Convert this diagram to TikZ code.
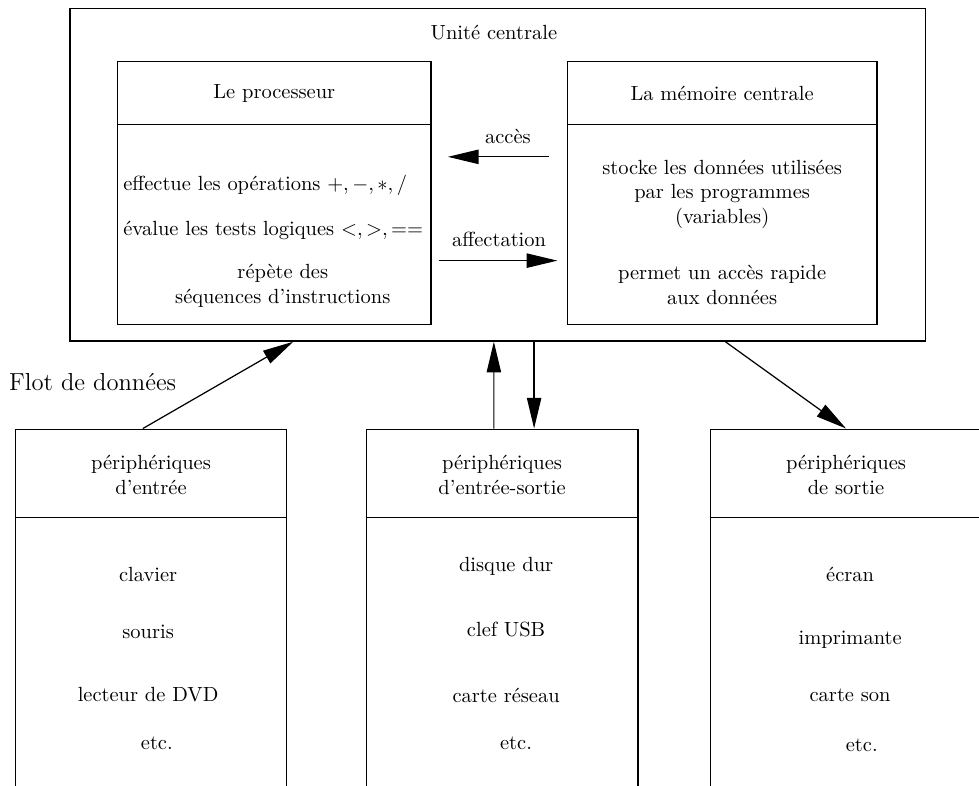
\documentclass[tikz,border=0pt]{standalone}
\usepackage{fontspec}
\usetikzlibrary{arrows.meta}
\begin{document}
\begin{tikzpicture}[
    cadre/.style={draw, line width=0.6pt, inner sep=0pt},
    fleche/.style={line width=0.6pt, -{Triangle[length=15pt,width=7pt]}}]
            \useasboundingbox (0,0) rectangle (16.79,13.48);
            \clip (0,0) rectangle (16.79,13.48);
            \node[cadre, minimum width=14.67cm, minimum height=5.71cm] (uc) at (8.535,10.485) {};
            \node (uctitre) at (8.47,12.92) {Unité centrale};
            \node[cadre, minimum width=5.37cm, minimum height=4.51cm] (proc) at (4.705,10.165) {};
            \node[cadre, minimum width=5.31cm, minimum height=4.51cm] (mem) at (12.385,10.165) {};
            \draw[line width=0.6pt] (2.02,11.34) -- (7.39,11.34);
            \draw[line width=0.6pt] (9.73,11.34) -- (15.04,11.34);
            \node (proctitre) at (4.705,11.88) {Le processeur};
            \node (memtitre) at (12.385,11.88) {La mémoire centrale};
            \node[anchor=west] (p1) at (1.99,10.3) {effectue les opérations $+,-,*,/$};
            \node[anchor=west] (p2) at (1.99,9.53) {évalue les tests logiques $<,>,==$};
            \node[align=center] (p3) at (4.85,8.58) {répète des\\séquences d'instructions};
            \node[align=center] (m1) at (12.385,10.15) {stocke les données utilisées\\par les programmes\\(variables)};
            \node[align=center] (m2) at (12.385,8.59) {permet un accès rapide\\aux données};
            \draw[fleche, shorten <=0.3cm, shorten >=0.28cm] ([yshift=0.625cm]mem.west) -- ([yshift=0.625cm]proc.east)
                node[midway, above=3pt, xshift=0.15cm] (acces) {accès};
            \draw[fleche, shorten <=0.12cm, shorten >=0.16cm] ([yshift=-1.155cm]proc.east) -- ([yshift=-1.155cm]mem.west)
                node[midway, above=3pt] (affect) {affectation};
            \node[cadre, minimum width=4.66cm, minimum height=6.62cm] (entree) at (2.59,2.81) {};
            \node[cadre, minimum width=4.66cm, minimum height=6.62cm] (es) at (8.61,2.81) {};
            \node[cadre, minimum width=4.66cm, minimum height=6.62cm] (sortie) at (14.51,2.81) {};
            \draw[line width=0.6pt] (0.26,4.61) -- (4.92,4.61);
            \draw[line width=0.6pt] (6.28,4.61) -- (10.94,4.61);
            \draw[line width=0.6pt] (12.18,4.61) -- (16.84,4.61);
            \node[align=center] (entreetitre) at (2.59,5.33) {périphériques\\d'entrée};
            \node[align=center] (estitre) at (8.61,5.33) {périphériques\\d'entrée-sortie};
            \node[align=center] (sortietitre) at (14.51,5.33) {périphériques\\de sortie};
            \node (e1) at (2.54,3.62) {clavier};
            \node (e2) at (2.54,2.64) {souris};
            \node (e3) at (2.54,1.56) {lecteur de DVD};
            \node (e4) at (2.69,0.74) {etc.};
            \node (s1) at (8.68,3.76) {disque dur};
            \node (s2) at (8.68,2.68) {clef USB};
            \node (s3) at (8.68,1.56) {carte réseau};
            \node (s4) at (8.85,0.74) {etc.};
            \node (o1) at (14.58,3.62) {écran};
            \node (o2) at (14.58,2.50) {imprimante};
            \node (o3) at (14.58,1.56) {carte son};
            \node (o4) at (14.78,0.70) {etc.};
            \node[font=\large] (flot) at (1.59,6.93) {Flot de données};
            \draw[fleche] ([xshift=-0.14cm]entree.north) -- ([xshift=-3.505cm]uc.south);
            \draw[fleche] ([xshift=-0.14cm]es.north) -- ([xshift=-0.065cm]uc.south);
            \draw[fleche] ([xshift=0.625cm]uc.south) -- ([xshift=0.55cm]es.north);
            \draw[fleche] ([xshift=3.905cm]uc.south) -- (sortie.north);
        \end{tikzpicture}
\end{document}
